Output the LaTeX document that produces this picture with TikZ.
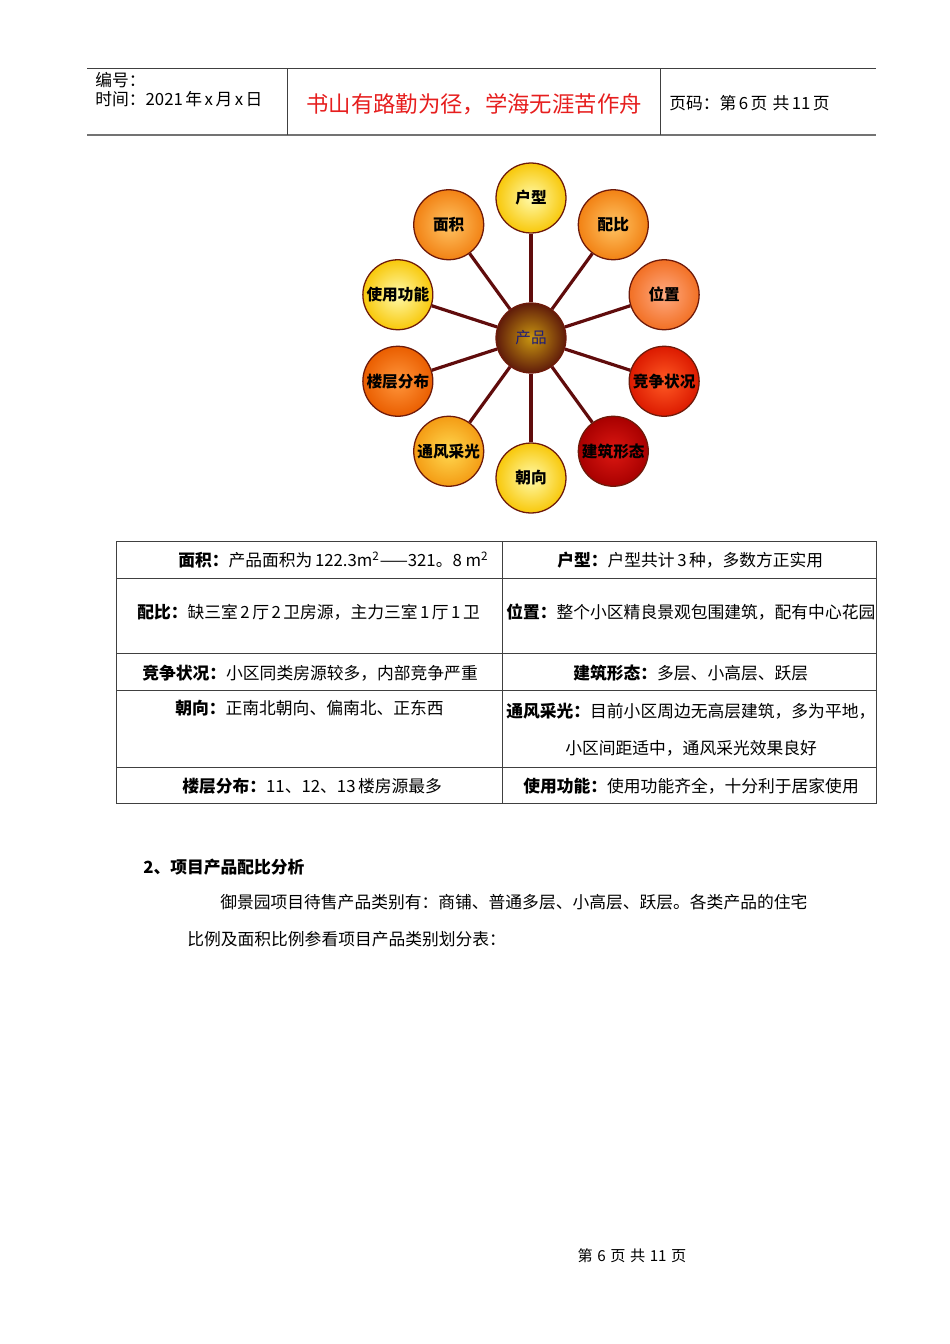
\documentclass[tikz,border=0pt]{standalone}
\usepackage{fontspec}
\setmainfont{Noto Sans CJK SC}
\usetikzlibrary{positioning}
\definecolor{titlered}{RGB}{230,30,30}
\definecolor{rimclr}{RGB}{110,26,10}
\definecolor{spokeclr}{RGB}{96,12,12}
\definecolor{yelin}{RGB}{255,250,170}
\definecolor{yelout}{RGB}{248,200,10}
\definecolor{orgin}{RGB}{255,196,100}
\definecolor{orgout}{RGB}{242,130,20}
\definecolor{salin}{RGB}{255,170,130}
\definecolor{salout}{RGB}{242,112,36}
\definecolor{redin}{RGB}{255,90,36}
\definecolor{redout}{RGB}{220,26,0}
\definecolor{drkin}{RGB}{220,24,18}
\definecolor{drkout}{RGB}{168,0,0}
\definecolor{yloin}{RGB}{255,216,80}
\definecolor{yloout}{RGB}{244,156,20}
\definecolor{lfin}{RGB}{255,150,60}
\definecolor{lfout}{RGB}{234,94,0}
\definecolor{hubin}{RGB}{200,150,16}
\definecolor{hubout}{RGB}{96,28,10}
\definecolor{hubtext}{RGB}{30,30,120}
\newcommand{\asp}{\hspace{0.15em}}
\tikzset{
  hdr/.style={anchor=west, inner sep=0pt, font=\fontsize{10.5}{12}\selectfont},
  motto/.style={inner sep=0pt, text=titlered, font=\fontsize{14}{16}\selectfont},
  ball/.style={circle, minimum size=43.8pt, inner sep=0pt, draw=rimclr,
    line width=0.8pt, font=\fontsize{9.8}{11}\selectfont\bfseries},
  hub/.style={ball, inner color=hubin, outer color=hubout, text=hubtext,
    font=\fontsize{9.8}{11}\selectfont},
  spoke/.style={draw=spokeclr, line width=2pt},
  cell/.style={anchor=west, inner sep=0pt, font=\fontsize{10.5}{12}\selectfont},
  para/.style={anchor=west, inner sep=0pt, font=\fontsize{10.5}{13}\selectfont},
  thinrule/.style={draw=black!75, line width=0.6pt},
  thickrule/.style={draw=black!55, line width=1.4pt},
}
\begin{document}
\begin{tikzpicture}[x=0.626pt, y=-0.626pt]
  \useasboundingbox (0,0) rectangle (950,1344);
  % page header
  \draw[thinrule] (87,68) -- (876,68);
  \draw[thickrule] (87,135) -- (876,135);
  \draw[thinrule] (287,68) -- (287,135);
  \draw[thinrule] (660,68) -- (660,135);
  \node[hdr] (bianhao) at (95,80) {编号：};
  \node[hdr] (shijian) at (95,99) {时间：2021\asp 年\asp x\asp 月\asp x\asp 日};
  \node[motto] (motto) at (474,104) {书山有路勤为径，学海无涯苦作舟};
  \node[hdr] (yema) at (669,103) {页码：第\asp 6\asp 页\asp\asp 共\asp 11\asp 页};

  % product wheel
  \node[hub] (prod) at (531,338) {产品};
  \foreach \nm/\txt/\ang/\ci/\co in {
      huxing/户型/-90/yelin/yelout, peibi/配比/-54/orgin/orgout,
      weizhi/位置/-18/salin/salout, jingzheng/竞争状况/18/redin/redout,
      jianzhu/建筑形态/54/drkin/drkout, chaoxiang/朝向/90/yelin/yelout,
      tongfeng/通风采光/126/yloin/yloout, louceng/楼层分布/162/lfin/lfout,
      shiyong/使用功能/198/yelin/yelout, mianji/面积/234/orgin/orgout}
  {
    \node[ball, inner color=\ci, outer color=\co] (\nm) at ([shift={(\ang:140)}]531,338) {\txt};
    \draw[spoke] (prod) -- (\nm);
  }

  % table
  \draw[thinrule] (116,541) rectangle (876,803);
  \draw[thinrule] (502,541) -- (502,803);
  \foreach \y in {578,653,690,767} \draw[thinrule] (116,\y) -- (876,\y);
  \node[cell] (mianjiT) at (178,560) {\textbf{面积：}产品面积为\asp 122.3m\textsuperscript{2}——321。8 m\textsuperscript{2}};
  \node[cell] (huxingT) at (557,560) {\textbf{户型：}户型共计\asp 3\asp 种，多数方正实用};
  \node[cell] (peibiT) at (137,612) {\textbf{配比：}缺三室\asp 2\asp 厅\asp 2\asp 卫房源，主力三室\asp 1\asp 厅\asp 1\asp 卫};
  \node[cell] (weizhiT) at (506,612) {\textbf{位置：}整个小区精良景观包围建筑，配有中心花园};
  \node[cell] (jingzhengT) at (142,673) {\textbf{竞争状况：}小区同类房源较多，内部竞争严重};
  \node[cell] (jianzhuT) at (573,673) {\textbf{建筑形态：}多层、小高层、跃层};
  \node[cell] (chaoxiangT) at (175,708) {\textbf{朝向：}正南北朝向、偏南北、正东西};
  \node[cell] (tongfengT) at (506,711) {\textbf{通风采光：}目前小区周边无高层建筑，多为平地，};
  \node[cell] (tongfengT2) at (565,748) {小区间距适中，通风采光效果良好};
  \node[cell] (loucengT) at (182,786) {\textbf{楼层分布：}11、12、13\asp 楼房源最多};
  \node[cell] (shiyongT) at (523,786) {\textbf{使用功能：}使用功能齐全，十分利于居家使用};

  % section text
  \node[cell, font=\fontsize{10.5}{12}\selectfont\bfseries] (sec) at (143,867) {2、项目产品配比分析};
  \node[para] (line1) at (220,902) {御景园项目待售产品类别有：商铺、普通多层、小高层、跃层。各类产品的住宅};
  \node[para] (line2) at (187,939) {比例及面积比例参看项目产品类别划分表：};

  % footer
  \node[inner sep=0pt, font=\fontsize{9.5}{10}\selectfont] (footer) at (632,1256) {第\asp\asp 6\asp\asp 页\asp\asp 共\asp\asp 11\asp\asp 页};
\end{tikzpicture}
\end{document}
